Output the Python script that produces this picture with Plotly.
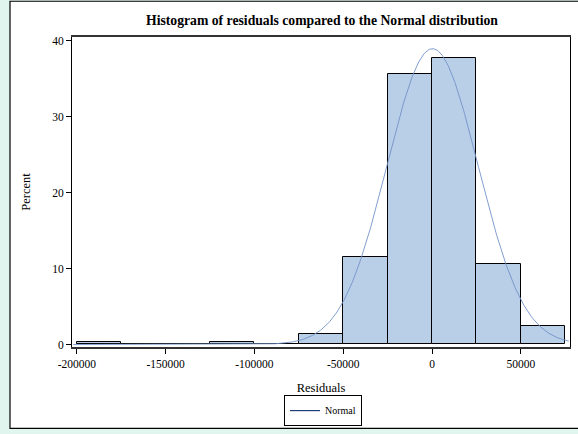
import numpy as np
import plotly.graph_objects as go

# Histogram bins (left edges) and percent values
bin_left = [-200000, -175000, -150000, -125000, -100000, -75000, -50000, -25000, 0, 25000, 50000]
bin_width = 25000
percent = [0.3, 0, 0, 0.3, 0, 1.4, 11.5, 35.6, 37.8, 10.6, 2.4]

# Fitted normal parameters
mu = 300
sigma = 25600

x_ticks = [-200000, -150000, -100000, -50000, 0, 50000]
y_ticks = [0, 10, 20, 30, 40]

centers = [b + bin_width / 2 for b in bin_left]
xs = np.linspace(-202000, 77000, 600)
ys = 100 * bin_width / (sigma * np.sqrt(2 * np.pi)) * np.exp(-0.5 * ((xs - mu) / sigma) ** 2)

FONT = "Liberation Serif"
W, H = 578, 434
L, R, T, B = 72, 8, 37, 85
pw, ph = W - L - R, H - T - B


def px(xp):
    return (xp - L) / pw


def py(yp):
    return (H - B - yp) / ph


fig = go.Figure()
fig.add_trace(go.Bar(
    x=centers, y=percent, width=bin_width,
    marker=dict(color="#B9CFE7", line=dict(color="black", width=1)),
    showlegend=False, hoverinfo="skip"))
fig.add_trace(go.Scatter(
    x=xs, y=ys, mode="lines", name="Normal", showlegend=False,
    line=dict(color="#7393C8", width=0.9)))
# legend entry (drawn darker, as in the reference legend)
fig.add_trace(go.Scatter(
    x=[None], y=[None], mode="lines", name="Normal", showlegend=True,
    line=dict(color="#1B3D7A", width=1.2)))

fig.update_layout(
    width=W, height=H,
    margin=dict(l=L, r=R, t=T, b=B),
    paper_bgcolor="#E0F5EE",
    plot_bgcolor="white",
    font=dict(family=FONT, size=11, color="black"),
    title=dict(text="<b>Histogram of residuals compared to the Normal distribution</b>",
               xref="paper", x=px(322), xanchor="center",
               yref="container", y=1 - 20 / H, yanchor="middle",
               font=dict(family=FONT, size=13.7, color="black")),
    bargap=0,
    showlegend=True,
    legend=dict(orientation="h", x=px(323), xanchor="center", y=py(413), yanchor="middle",
                bordercolor="black", borderwidth=1, bgcolor="white",
                font=dict(family=FONT, size=10), itemwidth=30, tracegroupgap=0),
    shapes=[dict(type="rect", xref="paper", yref="paper", layer="below",
                 x0=px(10), x1=px(600), y0=py(431), y1=py(1),
                 fillcolor="white", line=dict(color="black", width=1.2))],
)
fig.update_xaxes(range=[-202700, 77700], tickvals=x_ticks, ticktext=[str(v) for v in x_ticks],
                 ticks="outside", ticklen=5, tickcolor="black", showgrid=False, zeroline=False,
                 showline=True, linecolor="#333333", linewidth=1.5, mirror=True,
                 tickfont=dict(family=FONT, size=11.5),
                 title=dict(text="Residuals", standoff=15, font=dict(family=FONT, size=12.5)))
fig.update_yaxes(range=[-0.33, 40.5], tickvals=y_ticks, ticks="outside", ticklen=5,
                 tickcolor="black", showgrid=False, zeroline=False,
                 showline=True, linecolor="black", linewidth=1, mirror=True,
                 tickfont=dict(family=FONT, size=11.5),
                 title=dict(text="Percent", standoff=18, font=dict(family=FONT, size=12.5)))

fig.write_html("out.html", config={"displayModeBar": False},
               post_script="document.body.style.margin='0';document.body.style.overflow='hidden';")
